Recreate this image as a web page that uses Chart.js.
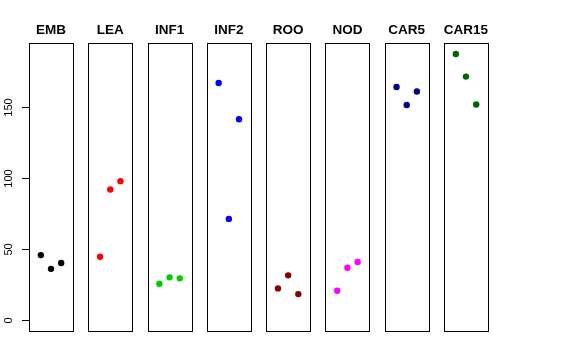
<!DOCTYPE html>
<html>
<head>
<meta charset="utf-8">
<script src="https://cdn.jsdelivr.net/npm/chart.js@4"></script>
<style>
  html, body { margin: 0; padding: 0; background: #fff; }
  #wrap { width: 576px; height: 360px; }
</style>
</head>
<body>
<div id="wrap"><canvas id="c" width="576" height="360"></canvas></div>
<script>
// Données
const groupes = ['EMB', 'LEA', 'INF1', 'INF2', 'ROO', 'NOD', 'CAR5', 'CAR15'];
const couleurs = ['#000000', '#FF0000', '#00CD00', '#0000FF', '#8B0000', '#FF00FF', '#00008B', '#006400'];
const valEMB = [46, 36.3, 40.4];
const valLEA = [44.8, 92.2, 98.1];
const valINF1 = [25.8, 30.3, 29.6];
const valINF2 = [167.3, 71.5, 141.8];
const valROO = [22.5, 31.7, 18.5];
const valNOD = [20.9, 37.1, 41.1];
const valCAR5 = [164.5, 151.8, 161.3];
const valCAR15 = [187.7, 171.8, 152.1];
const yTicks = [0, 50, 100, 150];

const valeurs = [valEMB, valLEA, valINF1, valINF2, valROO, valNOD, valCAR5, valCAR15];

// Géométrie des panneaux (unités de l'axe x)
const xlimBas = -0.16, xlimHaut = 4.16;
const largeur = xlimHaut - xlimBas;
const ecart = 1.5;
const periode = largeur + ecart;

// Construire les jeux de données
const datasets = groupes.map((g, i) => ({
    label: g,
    data: valeurs[i].map((v, j) => ({ x: i * periode + (j + 1) - xlimBas, y: v })),
    backgroundColor: couleurs[i],
    borderColor: couleurs[i],
    pointRadius: 3.2,
    pointBorderWidth: 0,
    showLine: false
}));

// Cadres, titres et étiquettes de l'axe y
const panneaux = {
    id: 'panneaux',
    afterDraw(chart) {
        const ctx = chart.ctx;
        const xs = chart.scales.x, ys = chart.scales.y;
        const top = chart.chartArea.top, bottom = chart.chartArea.bottom;
        ctx.save();
        groupes.forEach((g, i) => {
            const x0 = xs.getPixelForValue(i * periode);
            const x1 = xs.getPixelForValue(i * periode + largeur);
            ctx.strokeStyle = '#000';
            ctx.lineWidth = 1;
            ctx.strokeRect(Math.round(x0) + 0.5, Math.round(top) + 0.5, Math.round(x1 - x0), Math.round(bottom - top));
            ctx.fillStyle = '#000';
            ctx.font = 'bold 13.5px "Liberation Sans", Arial, sans-serif';
            ctx.textAlign = 'center';
            ctx.textBaseline = 'alphabetic';
            ctx.fillText(g, (x0 + x1) / 2, 34);
        });
        ctx.font = '11px "Liberation Sans", Arial, sans-serif';
        yTicks.forEach(t => {
            const y = ys.getPixelForValue(t);
            ctx.save();
            ctx.translate(12.3, y);
            ctx.rotate(-Math.PI / 2);
            ctx.textAlign = 'center';
            ctx.textBaseline = 'alphabetic';
            ctx.fillText(String(t), 0, 0);
            ctx.restore();
        });
        ctx.restore();
    }
};

new Chart(document.getElementById('c'), {
    type: 'scatter',
    data: { datasets: datasets },
    options: {
        responsive: false,
        animation: false,
        layout: { padding: { left: 0, top: 43, right: 88, bottom: 29 } },
        plugins: { legend: { display: false }, tooltip: { enabled: false } },
        scales: {
            x: {
                display: false,
                min: 0,
                max: groupes.length * periode - ecart
            },
            y: {
                min: -7.52,
                max: 195.5,
                afterFit: s => { s.width = 29; },
                border: { display: false },
                grid: { drawOnChartArea: false, drawTicks: true, tickLength: 7, color: '#000' },
                ticks: { display: false, stepSize: 50, includeBounds: false }
            }
        }
    },
    plugins: [panneaux]
});
</script>
</body>
</html>
